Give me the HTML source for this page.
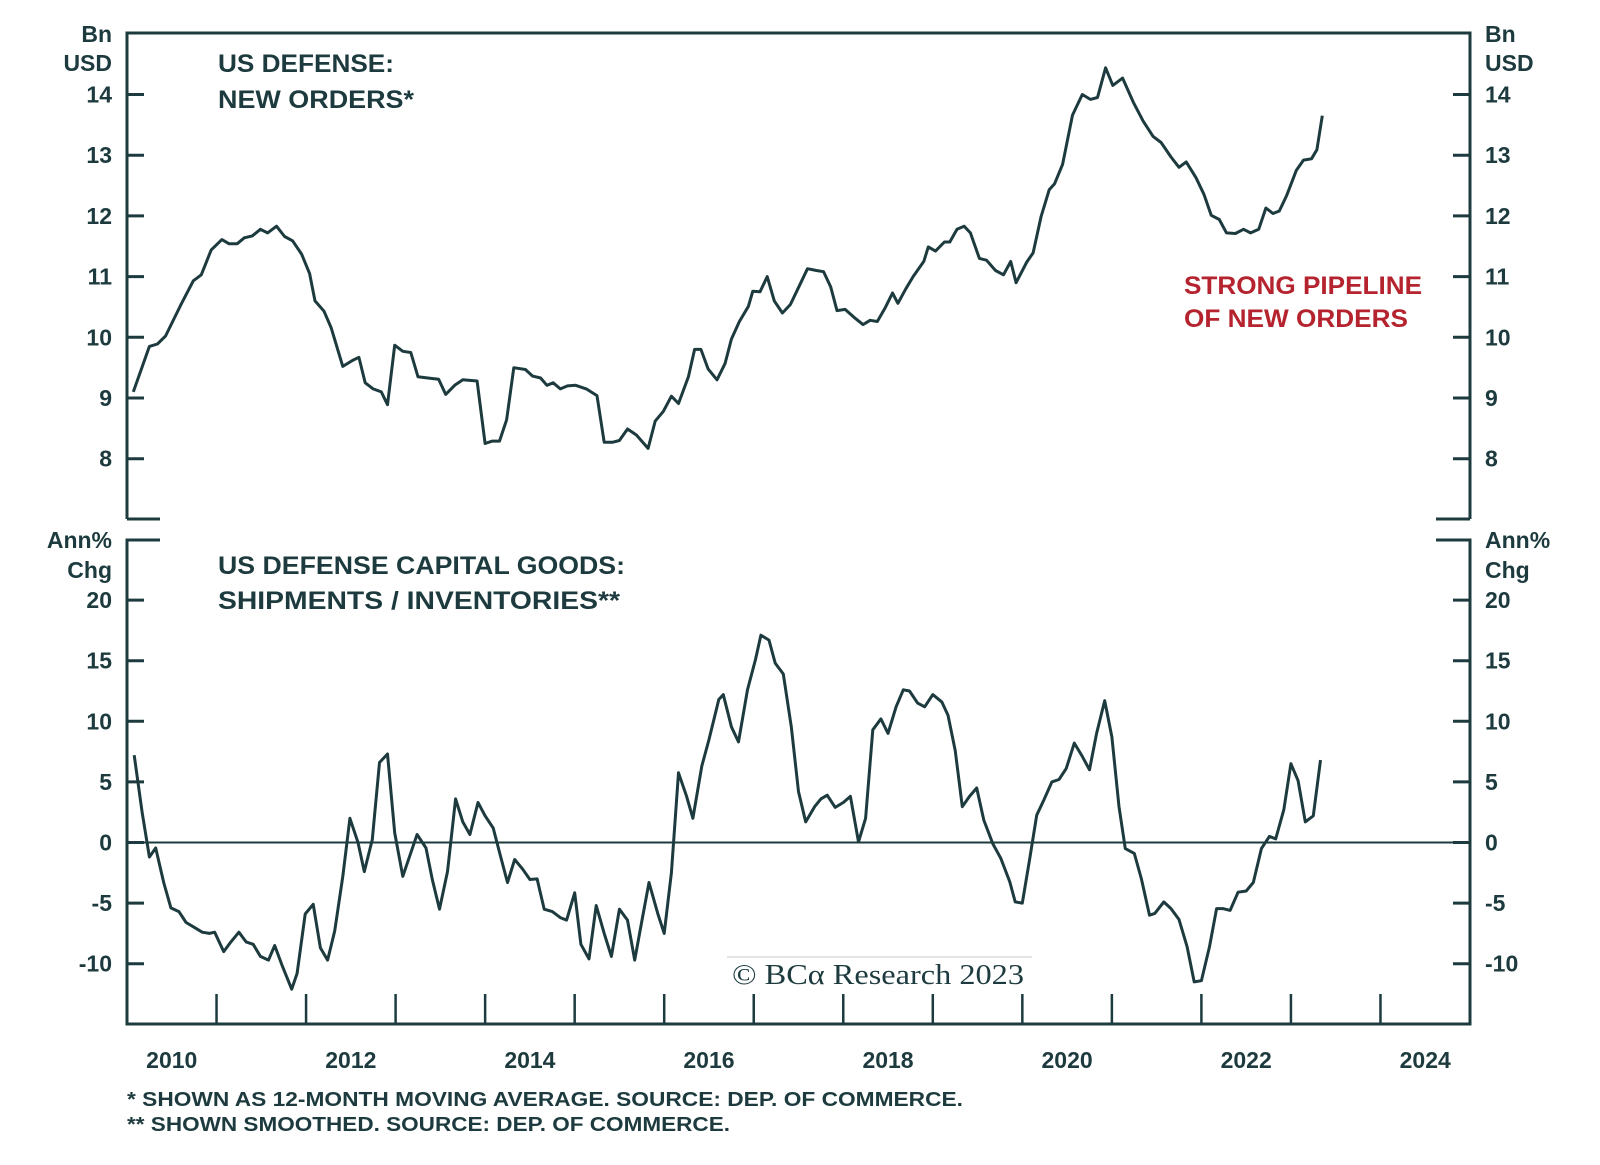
<!DOCTYPE html>
<html><head><meta charset="utf-8"><style>
html,body{margin:0;padding:0;background:#fff;}
svg{display:block;font-family:"Liberation Sans",sans-serif;}
.lab{font-weight:bold;fill:#1d3b3e;font-size:23px;}
.ttl{font-weight:bold;fill:#1d3b3e;font-size:25px;}
</style></head><body>
<svg id="chart" width="1600" height="1165" viewBox="0 0 1600 1165" xmlns="http://www.w3.org/2000/svg"></svg>
<script>
const topDates=[2010.07,2010.25,2010.34,2010.43,2010.60,2010.74,2010.83,2010.94,2011.06,2011.14,2011.23,2011.31,2011.40,2011.49,2011.57,2011.67,2011.76,2011.85,2011.95,2012.04,2012.10,2012.20,2012.28,2012.41,2012.52,2012.59,2012.66,2012.75,2012.84,2012.91,2012.99,2013.08,2013.17,2013.25,2013.36,2013.48,2013.56,2013.66,2013.75,2013.91,2014.00,2014.08,2014.16,2014.24,2014.32,2014.45,2014.53,2014.62,2014.69,2014.76,2014.84,2014.92,2015.01,2015.13,2015.25,2015.33,2015.42,2015.50,2015.59,2015.69,2015.82,2015.90,2015.99,2016.08,2016.16,2016.27,2016.34,2016.41,2016.49,2016.59,2016.68,2016.75,2016.84,2016.94,2016.99,2017.07,2017.15,2017.23,2017.32,2017.41,2017.51,2017.60,2017.70,2017.78,2017.86,2017.93,2018.02,2018.12,2018.22,2018.30,2018.38,2018.47,2018.55,2018.61,2018.70,2018.78,2018.90,2018.95,2019.03,2019.13,2019.19,2019.27,2019.35,2019.42,2019.52,2019.60,2019.70,2019.79,2019.87,2019.93,2020.05,2020.12,2020.21,2020.30,2020.36,2020.45,2020.56,2020.67,2020.76,2020.84,2020.93,2021.01,2021.12,2021.24,2021.35,2021.46,2021.55,2021.66,2021.75,2021.83,2021.94,2022.03,2022.11,2022.20,2022.28,2022.38,2022.47,2022.55,2022.64,2022.72,2022.80,2022.87,2022.95,2023.06,2023.14,2023.23,2023.29,2023.35];
const topValues=[9.10,9.85,9.89,10.02,10.53,10.93,11.03,11.44,11.61,11.54,11.54,11.64,11.67,11.78,11.72,11.83,11.66,11.59,11.37,11.05,10.60,10.43,10.16,9.52,9.62,9.67,9.25,9.15,9.10,8.89,9.87,9.77,9.75,9.35,9.33,9.31,9.06,9.21,9.30,9.28,8.25,8.29,8.29,8.64,9.50,9.47,9.36,9.33,9.21,9.25,9.15,9.20,9.21,9.15,9.04,8.27,8.27,8.30,8.49,8.39,8.17,8.62,8.78,9.03,8.91,9.35,9.80,9.80,9.48,9.30,9.57,9.97,10.26,10.51,10.76,10.75,11.00,10.60,10.40,10.54,10.85,11.13,11.10,11.08,10.83,10.44,10.46,10.33,10.21,10.28,10.26,10.49,10.73,10.56,10.80,11.00,11.25,11.49,11.42,11.57,11.57,11.78,11.83,11.72,11.30,11.27,11.10,11.03,11.25,10.90,11.24,11.39,11.99,12.43,12.53,12.85,13.66,14.00,13.92,13.95,14.44,14.15,14.27,13.87,13.56,13.31,13.21,12.97,12.80,12.89,12.63,12.35,12.01,11.94,11.72,11.71,11.78,11.72,11.78,12.13,12.04,12.08,12.33,12.75,12.92,12.94,13.09,13.65];
const botDates=[2010.08,2010.17,2010.25,2010.32,2010.41,2010.49,2010.58,2010.66,2010.75,2010.84,2010.92,2010.98,2011.08,2011.16,2011.25,2011.33,2011.41,2011.49,2011.58,2011.65,2011.73,2011.84,2011.90,2011.99,2012.08,2012.16,2012.24,2012.32,2012.41,2012.49,2012.58,2012.65,2012.74,2012.82,2012.91,2012.99,2013.08,2013.17,2013.24,2013.34,2013.41,2013.49,2013.58,2013.67,2013.75,2013.83,2013.92,2014.00,2014.09,2014.17,2014.25,2014.33,2014.42,2014.50,2014.58,2014.66,2014.75,2014.84,2014.91,2015.00,2015.07,2015.16,2015.24,2015.33,2015.41,2015.50,2015.59,2015.67,2015.75,2015.83,2015.93,2016.00,2016.08,2016.16,2016.25,2016.32,2016.42,2016.50,2016.61,2016.66,2016.75,2016.83,2016.93,2017.02,2017.08,2017.17,2017.24,2017.33,2017.42,2017.50,2017.58,2017.68,2017.75,2017.82,2017.91,2018.00,2018.08,2018.17,2018.25,2018.33,2018.42,2018.50,2018.59,2018.67,2018.74,2018.83,2018.91,2019.00,2019.10,2019.17,2019.25,2019.33,2019.41,2019.49,2019.57,2019.67,2019.76,2019.86,2019.92,2020.00,2020.08,2020.16,2020.24,2020.33,2020.41,2020.49,2020.58,2020.67,2020.75,2020.83,2020.92,2021.00,2021.08,2021.15,2021.25,2021.33,2021.42,2021.48,2021.58,2021.66,2021.75,2021.84,2021.92,2022.00,2022.09,2022.17,2022.24,2022.32,2022.41,2022.50,2022.58,2022.67,2022.76,2022.83,2022.92,2023.00,2023.08,2023.16,2023.25,2023.33];
const botValues=[7.2,2.45,-1.2,-0.45,-3.3,-5.4,-5.7,-6.6,-7.0,-7.4,-7.5,-7.4,-9.0,-8.2,-7.4,-8.2,-8.4,-9.4,-9.7,-8.5,-10.1,-12.1,-10.8,-5.9,-5.1,-8.7,-9.7,-7.3,-2.8,2.0,0,-2.4,0.25,6.6,7.3,0.8,-2.8,-0.85,0.66,-0.45,-3.05,-5.5,-2.4,3.6,1.7,0.66,3.3,2.2,1.2,-1.1,-3.3,-1.4,-2.2,-3.05,-3.0,-5.5,-5.7,-6.2,-6.4,-4.15,-8.4,-9.6,-5.2,-7.5,-9.4,-5.5,-6.4,-9.7,-6.5,-3.3,-5.9,-7.5,-2.5,5.75,3.8,2.0,6.3,8.5,11.8,12.2,9.55,8.3,12.6,15.1,17.1,16.7,14.8,13.9,9.55,4.2,1.7,2.95,3.6,3.9,2.9,3.3,3.8,0.05,2.0,9.3,10.2,9.0,11.2,12.6,12.5,11.5,11.2,12.2,11.6,10.5,7.6,2.95,3.8,4.5,1.85,-0.1,-1.3,-3.25,-4.9,-5.0,-1.45,2.25,3.5,5.0,5.2,6.1,8.2,7.1,6.0,9.0,11.7,8.7,2.95,-0.5,-0.9,-3.0,-6.0,-5.85,-4.9,-5.45,-6.35,-8.6,-11.5,-11.4,-8.6,-5.45,-5.45,-5.6,-4.1,-4.0,-3.3,-0.5,0.5,0.3,2.7,6.5,5.1,1.7,2.2,6.8];
const topTicks=[14,13,12,11,10,9,8];
const botTicks=[20,15,10,5,0,-5,-10];
const yearLabels=[2010,2012,2014,2016,2018,2020,2022,2024];

const NS='http://www.w3.org/2000/svg';
const svg=document.getElementById('chart');
const C='#1d3b3e';
const L=127, R=1470;
function xS(d){return L+(d-2010)*(R-L)/15;}
function yT(v){return 94.5+(14-v)*60.7;}
function yB(v){return 842.5-v*12.12;}
function el(tag,attrs,parent){const e=document.createElementNS(NS,tag);for(const k in attrs)e.setAttribute(k,attrs[k]);(parent||svg).appendChild(e);return e;}
function txt(s,x,y,cls,anchor,name,extra){const t=el('text',Object.assign({x:x,y:y,class:cls,'text-anchor':anchor||'start'},extra||{}));t.textContent=s;return t;}

const fr=el('path',{d:`M${L},519 L${L},33 L${R},33 L${R},519 M${L},519 L160,519 M${R},519 L1436,519 M160,540 L${L},540 L${L},1024 L${R},1024 L${R},540 L1436,540`,fill:'none',stroke:C,'stroke-width':3});



topTicks.forEach(v=>{const y=yT(v);
 const t=el('path',{d:`M${L},${y} L${L+17},${y} M${R},${y} L${R-17},${y}`,stroke:C,'stroke-width':3});
 
 
 txt(String(v),112,y+8,'lab','end','top-left-tick-label');
 txt(String(v),1485,y+8,'lab','start','top-right-tick-label');
});
botTicks.forEach(v=>{const y=yB(v);
 const t=el('path',{d:`M${L},${y} L${L+17},${y} M${R},${y} L${R-17},${y}`,stroke:C,'stroke-width':3});
 
 
 const s=String(v);
 txt(s,112,y+8,'lab','end','bottom-left-tick-label');
 txt(s,1485,y+8,'lab','start','bottom-right-tick-label');
});
const z=el('line',{x1:L,x2:R,y1:yB(0),y2:yB(0),stroke:C,'stroke-width':2});


for(let yr=2011;yr<=2024;yr++){const x=xS(yr);
 const t=el('line',{x1:x,x2:x,y1:1024,y2:994,stroke:C,'stroke-width':2.5});
 
 
}
yearLabels.forEach(yr=>{txt(String(yr),xS(yr+0.5),1068,'lab','middle','x-tick-label');});

function pathFrom(ds,vs,fy){return ds.map((d,i)=>(i?'L':'M')+xS(d).toFixed(1)+','+fy(vs[i]).toFixed(1)).join(' ');}
const p1=el('path',{d:pathFrom(topDates,topValues,yT),fill:'none',stroke:C,'stroke-width':3,'stroke-linejoin':'round'});


const p2=el('path',{d:pathFrom(botDates,botValues,yB),fill:'none',stroke:C,'stroke-width':3,'stroke-linejoin':'round'});



txt('Bn',112,42,'lab','end','top-left-unit');
txt('USD',112,71,'lab','end','top-left-unit');
txt('Bn',1485,42,'lab','start','top-right-unit');
txt('USD',1485,71,'lab','start','top-right-unit');
txt('Ann%',112,548,'lab','end','bottom-left-unit');
txt('Chg',112,578,'lab','end','bottom-left-unit');
txt('Ann%',1485,548,'lab','start','bottom-right-unit');
txt('Chg',1485,578,'lab','start','bottom-right-unit');

const TL={lengthAdjust:'spacingAndGlyphs'};
txt('US DEFENSE:',218,72,'ttl','start','top-panel-title',Object.assign({textLength:176},TL));
txt('NEW ORDERS*',218,108,'ttl','start','top-panel-title',Object.assign({textLength:196},TL));
txt('US DEFENSE CAPITAL GOODS:',218,574,'ttl','start','bottom-panel-title',Object.assign({textLength:407},TL));
txt('SHIPMENTS / INVENTORIES**',218,609,'ttl','start','bottom-panel-title',Object.assign({textLength:402},TL));
txt('STRONG PIPELINE',1184,294,'ttl','start','annotation',Object.assign({style:'fill:#b5232f',textLength:238},TL));
txt('OF NEW ORDERS',1184,327,'ttl','start','annotation',Object.assign({style:'fill:#b5232f',textLength:224},TL));

const cl=el('line',{x1:727,x2:1032,y1:957,y2:957,stroke:'#e4e4e4','stroke-width':2});


txt('© BCα Research 2023',732,984,'','start','copyright',Object.assign({style:'font-family:"Liberation Serif",serif;font-size:29px;fill:#1d3b3e',textLength:292},TL));

txt('* SHOWN AS 12-MONTH MOVING AVERAGE. SOURCE: DEP. OF COMMERCE.',127,1106,'','start','footnote',Object.assign({style:'font-size:20px;fill:#1d3b3e;font-weight:bold',textLength:836},TL));
txt('** SHOWN SMOOTHED. SOURCE: DEP. OF COMMERCE.',127,1131,'','start','footnote',Object.assign({style:'font-size:20px;fill:#1d3b3e;font-weight:bold',textLength:603},TL));
</script>
</body></html>
